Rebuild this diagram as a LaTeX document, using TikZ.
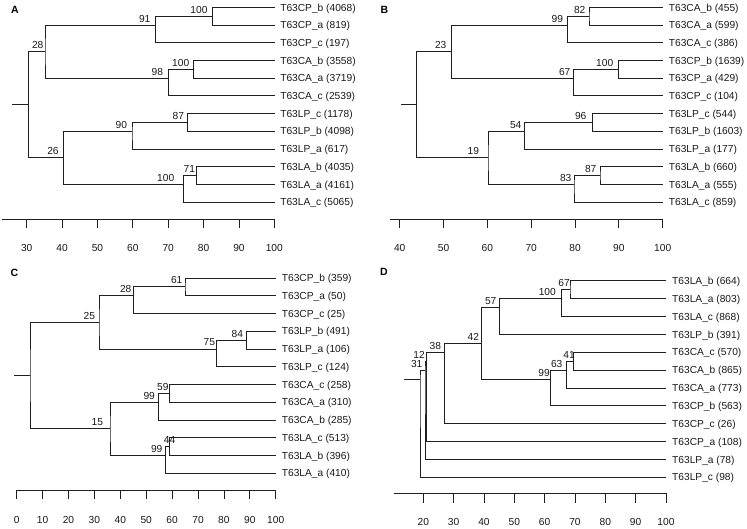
\documentclass[tikz,border=0pt]{standalone}
\usepackage{fontspec}
\setmainfont{Liberation Sans}
\newcommand{\myfs}{\fontsize{10.2}{12}\selectfont}
\tikzset{
  br/.style={line width=0.8pt, draw=black!88, line cap=rect},
  leaf/.style={anchor=base west, inner sep=0pt, font=\myfs, text=black!90, yshift=-3.7pt},
  lab/.style={anchor=center, inner sep=0pt, font=\myfs, text=black!90, yshift=6.5pt},
  tl/.style={anchor=center, inner sep=0pt, font=\myfs, text=black!90},
  plab/.style={anchor=center, inner sep=0pt, font=\fontsize{10.5}{12}\selectfont\bfseries}
}
\begin{document}
\begin{tikzpicture}[x=1pt, y=-1pt]
\useasboundingbox (0,0) rectangle (747,528);
% ---------------- Panel A ----------------
\node[plab] (pA) at (15,9.5) {A};
\begin{scope}[shift={(0,-10.4)}, y=-17.7pt]
  \foreach \r/\t in {1/T63CP\_b (4068),2/T63CP\_a (819),3/T63CP\_c (197),4/T63CA\_b (3558),5/T63CA\_a (3719),6/T63CA\_c (2539),7/T63LP\_c (1178),8/T63LP\_b (4098),9/T63LP\_a (617),10/T63LA\_b (4035),11/T63LA\_a (4161),12/T63LA\_c (5065)}{
    \coordinate (A\r) at (274.3,\r);
    \node[leaf] (tA\r) at ([xshift=5.8pt]A\r) {\t};
  }
  \coordinate (As) at (12.7,6.5);
  \coordinate (Ar) at (28.7,6.5);
  \coordinate (A28) at (45,3.5);
  \coordinate (A91) at (155.3,2);
  \coordinate (A100a) at (212.3,1.5);
  \coordinate (A98) at (168.3,5);
  \coordinate (A100b) at (193.3,4.5);
  \coordinate (A26) at (63.3,9.5);
  \coordinate (A90) at (132,8);
  \coordinate (A87) at (187.7,7.5);
  \coordinate (A100c) at (183.3,11);
  \coordinate (A71) at (196.3,10.5);
  \draw[br] (As) -- (Ar);
  \draw[br] (A28) -| (Ar) |- (A26);
  \draw[br] (A91) -| (A28) |- (A98);
  \draw[br] (A100a) -| (A91) |- (A3);
  \draw[br] (A1) -| (A100a) |- (A2);
  \draw[br] (A100b) -| (A98) |- (A6);
  \draw[br] (A4) -| (A100b) |- (A5);
  \draw[br] (A90) -| (A26) |- (A100c);
  \draw[br] (A87) -| (A90) |- (A9);
  \draw[br] (A7) -| (A87) |- (A8);
  \draw[br] (A71) -| (A100c) |- (A12);
  \draw[br] (A10) -| (A71) |- (A11);
  \node[lab] (lA1) at (199,1.5) {100};
  \node[lab] (lA2) at (144.7,2) {91};
  \node[lab] (lA3) at (37.7,3.5) {28};
  \node[lab] (lA4) at (180.7,4.5) {100};
  \node[lab] (lA5) at (157.3,5) {98};
  \node[lab] (lA6) at (178.3,7.5) {87};
  \node[lab] (lA7) at (121.3,8) {90};
  \node[lab] (lA8) at (53,9.5) {26};
  \node[lab] (lA9) at (189.3,10.5) {71};
  \node[lab] (lA10) at (165.7,11) {100};
\end{scope}
\draw[br] (2.7,219.3) -- (274.3,219.3);
\foreach \v [count=\i from 0] in {30,40,...,100}{
  \draw[br] (26.7+\i*35.37,219.3) -- ++(0,8.7);
  \node[tl] (axA\v) at (26.7+\i*35.37,247.7) {\v};
}
% ---------------- Panel B ----------------
\node[plab] (pB) at (384.3,9.5) {B};
\begin{scope}[shift={(0,-10.4)}, y=-17.7pt]
  \foreach \r/\t in {1/T63CA\_b (455),2/T63CA\_a (599),3/T63CA\_c (386),4/T63CP\_b (1639),5/T63CP\_a (429),6/T63CP\_c (104),7/T63LP\_c (544),8/T63LP\_b (1603),9/T63LP\_a (177),10/T63LA\_b (660),11/T63LA\_a (555),12/T63LA\_c (859)}{
    \coordinate (B\r) at (662.7,\r);
    \node[leaf] (tB\r) at ([xshift=6pt]B\r) {\t};
  }
  \coordinate (Bs) at (401.7,6.5);
  \coordinate (Br) at (416.7,6.5);
  \coordinate (B23) at (451.7,3.5);
  \coordinate (B99) at (567.3,2);
  \coordinate (B82) at (589,1.5);
  \coordinate (B67) at (573.3,5);
  \coordinate (B100) at (618.3,4.5);
  \coordinate (B19) at (488,9.5);
  \coordinate (B54) at (524.7,8);
  \coordinate (B96) at (592.3,7.5);
  \coordinate (B83) at (574,11);
  \coordinate (B87) at (600,10.5);
  \draw[br] (Bs) -- (Br);
  \draw[br] (B23) -| (Br) |- (B19);
  \draw[br] (B99) -| (B23) |- (B67);
  \draw[br] (B82) -| (B99) |- (B3);
  \draw[br] (B1) -| (B82) |- (B2);
  \draw[br] (B100) -| (B67) |- (B6);
  \draw[br] (B4) -| (B100) |- (B5);
  \draw[br] (B54) -| (B19) |- (B83);
  \draw[br] (B96) -| (B54) |- (B9);
  \draw[br] (B7) -| (B96) |- (B8);
  \draw[br] (B87) -| (B83) |- (B12);
  \draw[br] (B10) -| (B87) |- (B11);
  \node[lab] (lB1) at (579.7,1.5) {82};
  \node[lab] (lB2) at (557.3,2) {99};
  \node[lab] (lB3) at (440.7,3.5) {23};
  \node[lab] (lB4) at (604.7,4.5) {100};
  \node[lab] (lB5) at (564.7,5) {67};
  \node[lab] (lB6) at (580.7,7.5) {96};
  \node[lab] (lB7) at (515.7,8) {54};
  \node[lab] (lB8) at (473.3,9.5) {19};
  \node[lab] (lB9) at (590.7,10.5) {87};
  \node[lab] (lB10) at (565.7,11) {83};
\end{scope}
\draw[br] (390.7,219.3) -- (662.7,219.3);
\foreach \v [count=\i from 0] in {40,50,...,100}{
  \draw[br] (399.7+\i*43.83,219.3) -- ++(0,8.7);
  \node[tl] (axB\v) at (399.7+\i*43.83,247.7) {\v};
}
% ---------------- Panel C ----------------
\node[plab] (pC) at (14.5,273) {C};
\begin{scope}[shift={(0,260.25)}, y=-17.75pt]
  \foreach \r/\t in {1/T63CP\_b (359),2/T63CP\_a (50),3/T63CP\_c (25),4/T63LP\_b (491),5/T63LP\_a (106),6/T63LP\_c (124),7/T63CA\_c (258),8/T63CA\_a (310),9/T63CA\_b (285),10/T63LA\_c (513),11/T63LA\_b (396),12/T63LA\_a (410)}{
    \coordinate (C\r) at (275.7,\r);
    \node[leaf] (tC\r) at ([xshift=6pt]C\r) {\t};
  }
  \coordinate (Cs) at (14,6.5);
  \coordinate (Cr) at (30,6.5);
  \coordinate (C25) at (99,3.5);
  \coordinate (C28) at (133.3,2);
  \coordinate (C61) at (185,1.5);
  \coordinate (C75) at (216.7,5);
  \coordinate (C84) at (246.7,4.5);
  \coordinate (C15) at (110,9.5);
  \coordinate (C99a) at (158.3,8);
  \coordinate (C59) at (169.3,7.5);
  \coordinate (C99b) at (165.7,11);
  \coordinate (C44) at (169.3,10.5);
  \draw[br] (Cs) -- (Cr);
  \draw[br] (C25) -| (Cr) |- (C15);
  \draw[br] (C28) -| (C25) |- (C75);
  \draw[br] (C61) -| (C28) |- (C3);
  \draw[br] (C1) -| (C61) |- (C2);
  \draw[br] (C84) -| (C75) |- (C6);
  \draw[br] (C4) -| (C84) |- (C5);
  \draw[br] (C99a) -| (C15) |- (C99b);
  \draw[br] (C59) -| (C99a) |- (C9);
  \draw[br] (C7) -| (C59) |- (C8);
  \draw[br] (C44) -| (C99b) |- (C12);
  \draw[br] (C10) -| (C44) |- (C11);
  \node[lab] (lC1) at (176.7,1.5) {61};
  \node[lab] (lC2) at (125.7,2) {28};
  \node[lab] (lC3) at (89.3,3.5) {25};
  \node[lab] (lC4) at (237.3,4.5) {84};
  \node[lab] (lC5) at (209.3,5) {75};
  \node[lab] (lC6) at (162.8,7.5) {59};
  \node[lab] (lC7) at (149.2,8) {99};
  \node[lab] (lC8) at (97.3,9.5) {15};
  \node[lab] (lC9) at (169.5,10.5) {44};
  \node[lab] (lC10) at (156.7,11) {99};
\end{scope}
\draw[br] (16.7,490.7) -- (275.7,490.7);
\foreach \v [count=\i from 0] in {0,10,...,100}{
  \draw[br] (16.7+\i*25.9,490.7) -- ++(0,8.3);
  \node[tl] (axC\v) at (16.7+\i*25.9,520) {\v};
}
% ---------------- Panel D ----------------
\node[plab] (pD) at (384,272) {D};
\begin{scope}[shift={(0,262.83)}, y=-17.87pt]
  \foreach \r/\t in {1/T63LA\_b (664),2/T63LA\_a (803),3/T63LA\_c (868),4/T63LP\_b (391),5/T63CA\_c (570),6/T63CA\_b (865),7/T63CA\_a (773),8/T63CP\_b (563),9/T63CP\_c (26),10/T63CP\_a (108),11/T63LP\_a (78),12/T63LP\_c (98)}{
    \coordinate (D\r) at (666,\r);
    \node[leaf] (tD\r) at ([xshift=6pt]D\r) {\t};
  }
  \coordinate (Ds) at (404,6.5);
  \coordinate (Dr) at (420,6.5);
  \coordinate (DA) at (425,6);
  \coordinate (DB) at (426.7,5.5);
  \coordinate (DC) at (444.3,5);
  \coordinate (D42) at (481.3,4.5);
  \coordinate (D57) at (499.3,2.5);
  \coordinate (D100) at (561.3,2);
  \coordinate (D67) at (570,1.5);
  \coordinate (D99) at (550.7,6.5);
  \coordinate (D63) at (566.7,6);
  \coordinate (D41) at (573.3,5.5);
  \draw[br] (Ds) -- (Dr);
  \draw[br] (DA) -| (Dr) |- (D12);
  \draw[br] (DB) -| (DA) |- (D11);
  \draw[br] (DC) -| (DB) |- (D10);
  \draw[br] (D42) -| (DC) |- (D9);
  \draw[br] (D57) -| (D42) |- (D99);
  \draw[br] (D100) -| (D57) |- (D4);
  \draw[br] (D67) -| (D100) |- (D3);
  \draw[br] (D1) -| (D67) |- (D2);
  \draw[br] (D63) -| (D99) |- (D8);
  \draw[br] (D41) -| (D63) |- (D7);
  \draw[br] (D5) -| (D41) |- (D6);
  \node[lab] (lD1) at (564,1.5) {67};
  \node[lab] (lD2) at (547.3,2) {100};
  \node[lab] (lD3) at (490.7,2.5) {57};
  \node[lab] (lD4) at (473.3,4.5) {42};
  \node[lab] (lD5) at (435.3,5) {38};
  \node[lab] (lD6) at (419,5.5) {12};
  \node[lab] (lD7) at (416.7,6) {31};
  \node[lab] (lD8) at (569,5.5) {41};
  \node[lab] (lD9) at (556.7,6) {63};
  \node[lab] (lD10) at (544,6.5) {99};
\end{scope}
\draw[br] (394.7,493.7) -- (666,493.7);
\foreach \v [count=\i from 0] in {20,30,...,100}{
  \draw[br] (423.3+\i*30.33,493.7) -- ++(0,8.6);
  \node[tl] (axD\v) at (423.3+\i*30.33,521.7) {\v};
}
\end{tikzpicture}
\end{document}
